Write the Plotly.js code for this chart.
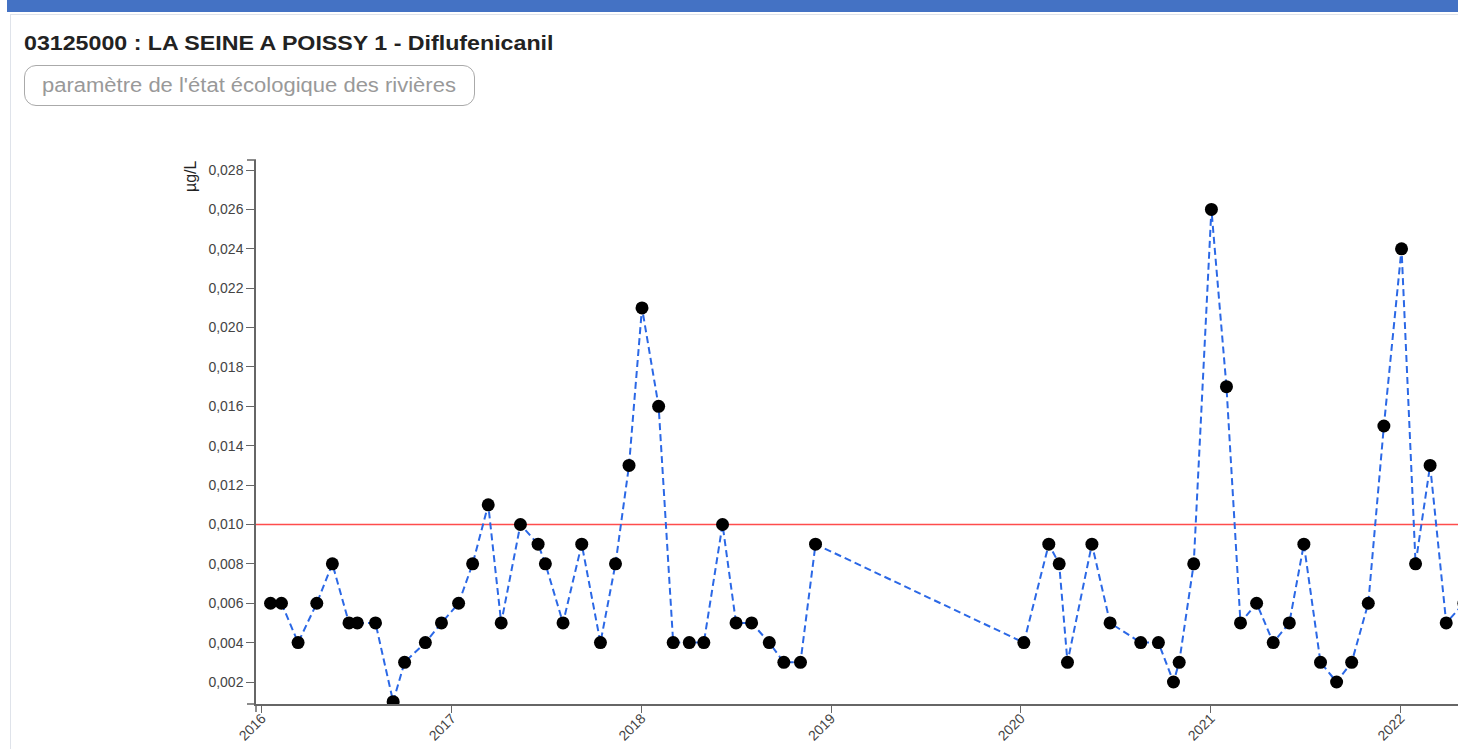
<!DOCTYPE html>
<html>
<head>
<meta charset="utf-8">
<script src="https://cdn.plot.ly/plotly-3.0.1.min.js"></script>
<style>
  html, body { margin: 0; padding: 0; width: 1458px; height: 749px; overflow: hidden; background: #fff; font-family: "Liberation Sans", Arial, sans-serif; }
  #band { position: absolute; left: 7px; top: 0; width: 1451px; height: 12px; background: #4472c4; }
  #panel { position: absolute; left: 10px; top: 14px; width: 1460px; height: 760px; border-left: 1px solid #dfe3ea; border-top: 1px solid #dfe3ea; }
  #title { position: absolute; left: 24px; top: 32px; font-size: 20px; font-weight: bold; color: #222; white-space: nowrap; transform: scaleX(1.16); transform-origin: 0 0; }
  #pill { position: absolute; left: 24px; top: 65px; width: 451px; height: 41px; border: 1px solid #aaa; border-radius: 12px; box-sizing: border-box; }
  #pilltext { position: absolute; left: 42px; top: 74px; font-size: 20px; color: #999; white-space: nowrap; transform: scaleX(1.1); transform-origin: 0 0; }
  #chart { position: absolute; left: 0; top: 0; width: 1600px; height: 749px; }
</style>
</head>
<body>
<div id="band"></div>
<div id="panel"></div>
<div id="chart"></div>
<div id="title">03125000 : LA SEINE A POISSY 1 - Diflufenicanil</div>
<div id="pill"></div>
<div id="pilltext">paramètre de l'état écologique des rivières</div>
<script>
const dates = [
  "2016-01-18","2016-02-08","2016-03-11","2016-04-16","2016-05-16","2016-06-17","2016-07-03","2016-08-07",
  "2016-09-10","2016-10-02","2016-11-11","2016-12-12","2017-01-14","2017-02-10","2017-03-12","2017-04-06",
  "2017-05-13","2017-06-16","2017-06-30","2017-08-03","2017-09-08","2017-10-14","2017-11-12","2017-12-08",
  "2018-01-02","2018-02-03","2018-03-03","2018-04-03","2018-05-01","2018-06-06","2018-07-02","2018-08-01",
  "2018-09-04","2018-10-02","2018-11-03","2018-12-02","2020-01-07","2020-02-24","2020-03-15","2020-03-31",
  "2020-05-17","2020-06-21","2020-08-19","2020-09-22","2020-10-21","2020-11-01","2020-11-29","2021-01-02",
  "2021-01-31","2021-02-27","2021-03-30","2021-05-01","2021-06-01","2021-06-29","2021-07-31","2021-08-31",
  "2021-09-29","2021-10-31","2021-11-30","2022-01-03","2022-01-30","2022-02-27","2022-03-30","2022-05-03"
];
const values = [
  0.006,0.006,0.004,0.006,0.008,0.005,0.005,0.005,
  0.001,0.003,0.004,0.005,0.006,0.008,0.011,0.005,
  0.010,0.009,0.008,0.005,0.009,0.004,0.008,0.013,
  0.021,0.016,0.004,0.004,0.004,0.010,0.005,0.005,
  0.004,0.003,0.003,0.009,0.004,0.009,0.008,0.003,
  0.009,0.005,0.004,0.004,0.002,0.003,0.008,0.026,
  0.017,0.005,0.006,0.004,0.005,0.009,0.003,0.002,
  0.003,0.006,0.015,0.024,0.008,0.013,0.005,0.006
];
const threshold = 0.010;
const yTicks = [0.002,0.004,0.006,0.008,0.010,0.012,0.014,0.016,0.018,0.020,0.022,0.024,0.026,0.028];
const xTicks = ["2016-01-01","2017-01-01","2018-01-01","2019-01-01","2020-01-01","2021-01-01","2022-01-01"];
const xTickLabels = ["2016","2017","2018","2019","2020","2021","2022"];
const yUnit = "µg/L";

const axisColor = "#666";
const tickFont = {family: "Liberation Sans, Arial, sans-serif", size: 14, color: "#444"};

const trace = {
  type: "scatter",
  mode: "lines+markers",
  x: dates,
  y: values,
  line: {color: "#2b68e6", width: 2, dash: "7px,4px"},
  marker: {color: "#000", size: 13},
  hoverinfo: "x+y"
};

const layout = {
  width: 1600,
  height: 749,
  margin: {l: 256, r: 0, t: 160, b: 45},
  paper_bgcolor: "rgba(0,0,0,0)",
  plot_bgcolor: "rgba(0,0,0,0)",
  showlegend: false,
  separators: ", ",
  font: {family: "Liberation Sans, Arial, sans-serif"},
  xaxis: {
    type: "date",
    range: ["2015-12-21", "2023-01-20"],
    tickvals: xTicks,
    ticktext: xTickLabels,
    tickangle: -45,
    ticks: "outside",
    ticklen: 7,
    tickcolor: axisColor,
    tickwidth: 1,
    ticklabelstandoff: -8,
    showline: true,
    linecolor: axisColor,
    linewidth: 1.5,
    showgrid: false,
    zeroline: false,
    tickfont: tickFont
  },
  yaxis: {
    range: [0.000883, 0.02851],
    tickvals: yTicks,
    tickformat: ".3f",
    ticks: "outside",
    ticklen: 8,
    tickcolor: axisColor,
    tickwidth: 1,
    showline: true,
    linecolor: axisColor,
    linewidth: 1.5,
    showgrid: false,
    zeroline: false,
    tickfont: tickFont
  },
  shapes: [
    {type: "line", xref: "paper", yref: "y", x0: 0, x1: 1, y0: threshold, y1: threshold,
     line: {color: "#ff4d4d", width: 1.5}, layer: "below"},
    {type: "line", xref: "paper", yref: "paper", xsizemode: "pixel", xanchor: 0, x0: -9, x1: 0, y0: 1, y1: 1,
     line: {color: axisColor, width: 1.5}},
    {type: "line", xref: "paper", yref: "paper", xsizemode: "pixel", xanchor: 0, x0: -9, x1: 0, y0: 0, y1: 0,
     line: {color: axisColor, width: 1.5}},
    {type: "line", xref: "paper", yref: "paper", ysizemode: "pixel", yanchor: 0, x0: 0, x1: 0, y0: -8, y1: 0,
     line: {color: axisColor, width: 1.5}}
  ],
  annotations: [
    {text: yUnit, xref: "paper", yref: "paper", x: 0, y: 1, xanchor: "center", yanchor: "middle",
     xshift: -66, yshift: -16, textangle: -90, showarrow: false,
     font: {family: "Liberation Sans, Arial, sans-serif", size: 16, color: "#222"}}
  ]
};

Plotly.newPlot("chart", [trace], layout, {displayModeBar: false, responsive: false});
</script>
</body>
</html>
